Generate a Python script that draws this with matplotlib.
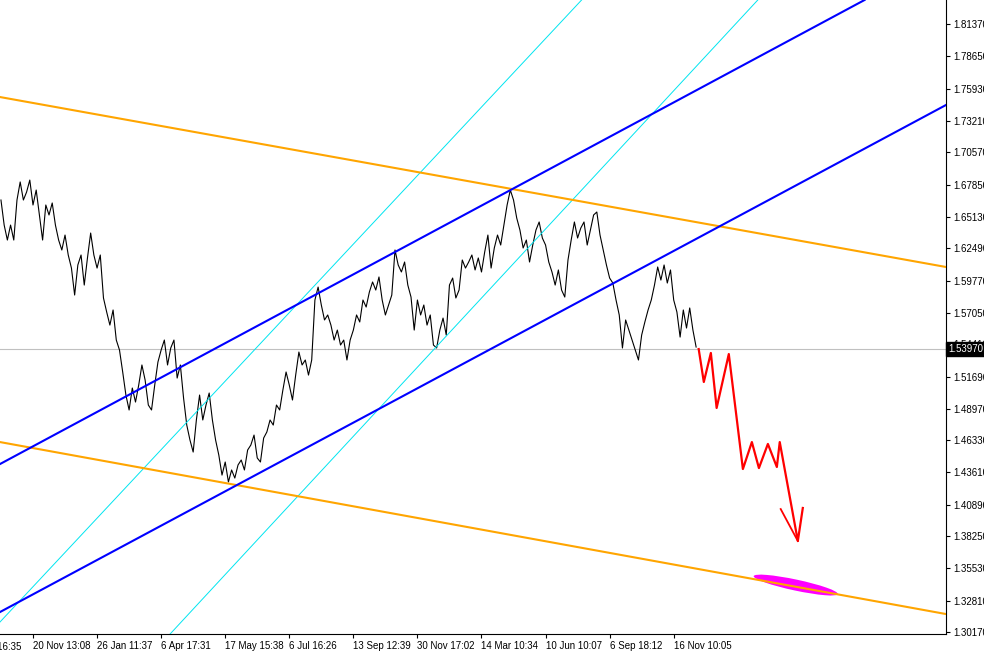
import matplotlib
matplotlib.use('Agg')
import matplotlib.pyplot as plt
from matplotlib.patches import Ellipse
from matplotlib.transforms import Affine2D

plt.rcParams['font.family'] = ['Liberation Sans', 'DejaVu Sans']

# closing prices, one per bar (bar 0 = 20 Nov 13:08)
start_bar = -10
closes = [
    1.6655, 1.6444, 1.6318, 1.6444, 1.6318, 1.6655, 1.6807, 1.6655, 1.6722, 1.6823,
    1.6613, 1.6739, 1.6529, 1.6318, 1.6613, 1.6529, 1.6630, 1.6444, 1.6318, 1.6234,
    1.6360, 1.6192, 1.6082, 1.5855, 1.6108, 1.6192, 1.5939, 1.6167, 1.6377, 1.6192,
    1.6082, 1.6192, 1.5830, 1.5712, 1.5602, 1.5729, 1.5476, 1.5392, 1.5207, 1.5013,
    1.4887, 1.5072, 1.4954, 1.5097, 1.5266, 1.5139, 1.4929, 1.4887, 1.5097, 1.5291,
    1.5392, 1.5476, 1.5266, 1.5409, 1.5476, 1.5156, 1.5266, 1.4988, 1.4760, 1.4634,
    1.4533, 1.4803, 1.5013, 1.4803, 1.4929, 1.5030, 1.4803, 1.4634, 1.4508, 1.4339,
    1.4449, 1.4281, 1.4382, 1.4314, 1.4424, 1.4466, 1.4382, 1.4550, 1.4592, 1.4676,
    1.4483, 1.4449, 1.4651, 1.4702, 1.4803, 1.4760, 1.4929, 1.4887, 1.5055, 1.5207,
    1.5097, 1.4971, 1.5181, 1.5375, 1.5266, 1.5308, 1.5181, 1.5308, 1.5813, 1.5922,
    1.5771, 1.5645, 1.5687, 1.5602, 1.5476, 1.5560, 1.5434, 1.5476, 1.5308, 1.5476,
    1.5560, 1.5687, 1.5628, 1.5813, 1.5754, 1.5880, 1.5965, 1.5897, 1.6007, 1.5813,
    1.5687, 1.5771, 1.5855, 1.6234, 1.6108, 1.6049, 1.6133, 1.5939, 1.5838, 1.5560,
    1.5813, 1.5687, 1.5771, 1.5602, 1.5687, 1.5434, 1.5409, 1.5560, 1.5661, 1.5518,
    1.5939, 1.5998, 1.5830, 1.5897, 1.6150, 1.6082, 1.6133, 1.6192, 1.6066, 1.6167,
    1.6049, 1.6217, 1.6360, 1.6082, 1.6251, 1.6360, 1.6276, 1.6444, 1.6613, 1.6739,
    1.6655, 1.6503, 1.6402, 1.6251, 1.6318, 1.6133, 1.6276, 1.6402, 1.6470, 1.6335,
    1.6276, 1.6133, 1.6049, 1.5939, 1.6066, 1.5897, 1.5838, 1.6150, 1.6318, 1.6470,
    1.6335, 1.6419, 1.6470, 1.6276, 1.6402, 1.6529, 1.6554, 1.6360, 1.6234, 1.6108,
    1.5998, 1.5956, 1.5813, 1.5687, 1.5409, 1.5645, 1.5560, 1.5476, 1.5392, 1.5308,
    1.5518, 1.5628, 1.5729, 1.5813, 1.5939, 1.6091, 1.5981, 1.6108, 1.5956, 1.6066,
    1.5813, 1.5712, 1.5501, 1.5729, 1.5577, 1.5746, 1.5560, 1.5417,
]
bars = list(range(start_bar, start_bar + len(closes)))

# forecast path (red arrow)
fc_bars = [207.8, 209.4, 211.6, 213.4, 217.2, 221.6, 224.4, 226.6, 229.4, 232.2, 233.1, 238.75, 240.3]
fc_prices = [1.5400, 1.5123, 1.5367, 1.4904, 1.5358, 1.4390, 1.4617, 1.4398, 1.4601, 1.4407, 1.4617, 1.3784, 1.4062]
barb_bars = [233.4, 238.75]
barb_prices = [1.4053, 1.3784]

# trend lines: two points each (bar, price)
orange_lines = [((-10.3, 1.7522), (285, 1.6091)), ((-10.3, 1.4617), (285, 1.3169))]
blue_lines = [((-10.3, 1.4432), (258.4, 1.8322)), ((-10.3, 1.3186), (285, 1.7455))]
cyan_lines = [((-10.3, 1.3102), (171.25, 1.8339)), ((42.8, 1.3001), (226.25, 1.8339))]

current_price = 1.5397
target_bar, target_price = 238.1, 1.3413

x_ticks = [0, 20, 40, 60, 80, 100, 120, 140, 160, 180, 200]
x_labels = ['20 Nov 13:08', '26 Jan 11:37', '6 Apr 17:31', '17 May 15:38', '6 Jul 16:26',
            '13 Sep 12:39', '30 Nov 17:02', '14 Mar 10:34', '10 Jun 10:07', '6 Sep 18:12',
            '16 Nov 10:05']
first_tick, first_label = -20, '2 Sep 16:35'

y_ticks = [1.81370, 1.78650, 1.75930, 1.73210, 1.70570, 1.67850, 1.65130, 1.62490, 1.59770,
           1.57050, 1.54410, 1.51690, 1.48970, 1.46330, 1.43610, 1.40890, 1.38250, 1.35530,
           1.32810, 1.30170]

fig = plt.figure(figsize=(9.84, 6.51), dpi=100)
ax = fig.add_axes([0, 1 - 634 / 651, 946 / 984, 634 / 651])
ax.set_xlim(-10.3, 285)
ax.set_ylim(1.3001, 1.8339)

ax.axhline(current_price, color='#C0C0C0', lw=0.8, zorder=1)
ax.plot(bars, closes, color='black', lw=0.8, zorder=2)

for p1, p2 in cyan_lines:
    ax.axline(p1, p2, color='#00E5F0', lw=0.7, zorder=3)
for p1, p2 in orange_lines:
    ax.axline(p1, p2, color='#FFA500', lw=1.5, zorder=5)
for p1, p2 in blue_lines:
    ax.axline(p1, p2, color='#0000FF', lw=1.5, zorder=6)

ax.plot(fc_bars, fc_prices, color='#FF0000', lw=1.6, zorder=7)
ax.plot(barb_bars, barb_prices, color='#FF0000', lw=1.3, zorder=7)

# magenta target zone (ellipse in pixel units)
cx, cy = ax.transData.transform((target_bar, target_price))
zone = Ellipse((0, 0), 86, 11, angle=-12, transform=Affine2D().translate(cx, cy),
               facecolor='#FF00FF', edgecolor='none', zorder=4)
ax.add_patch(zone)

# axes styling
for side in ['left', 'top']:
    ax.spines[side].set_visible(False)
for side in ['right', 'bottom']:
    ax.spines[side].set_color('black')
    ax.spines[side].set_linewidth(0.8)

ax.yaxis.tick_right()
ax.set_yticks(y_ticks)
ax.set_yticklabels(['%.5f' % v for v in y_ticks])
ax.set_xticks(x_ticks)
ax.set_xticklabels(x_labels)
for lbl in ax.get_xticklabels():
    lbl.set_ha('left')
ax.tick_params(axis='both', direction='out', length=3, width=0.8, pad=2,
               labelsize=7, colors='black')
ax.text(first_tick, -0.012, first_label, transform=ax.get_xaxis_transform(),
        ha='left', va='top', fontsize=7, clip_on=False)

ax.text(1.002, current_price, '1.53970', transform=ax.get_yaxis_transform(),
        color='white', fontsize=7, ha='left', va='center', clip_on=False, zorder=10,
        bbox=dict(boxstyle='square,pad=0.2', fc='black', ec='black'))

fig.savefig('out.png', dpi=100)
